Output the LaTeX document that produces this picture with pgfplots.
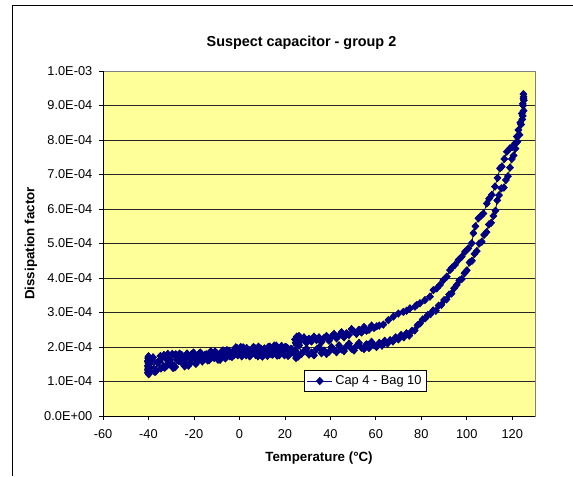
\documentclass[border=0pt]{standalone}
\usepackage{fontspec}
\setmainfont{Liberation Sans}
\usepackage{pgfplots}
\usepackage{pgfplotstable}
\pgfplotsset{compat=1.18}
\definecolor{navyblue}{RGB}{0,0,128}
\definecolor{plotyellow}{RGB}{255,255,153}

\pgfplotstableread{
T D
25.3 2.06
24.0 1.81
22.7 1.95
21.4 1.74
20.1 2.00
18.8 1.89
17.5 1.76
16.2 2.04
14.9 1.83
13.6 1.95
12.3 1.74
11.0 1.96
9.7 1.86
8.4 2.01
7.1 1.77
5.8 1.90
4.5 1.73
3.2 1.97
1.9 1.81
0.6 2.00
-0.7 1.76
-2.0 1.85
-3.3 1.71
-4.6 1.89
-5.9 1.77
-7.2 1.90
-8.5 1.63
-9.8 1.81
-11.1 1.68
-12.4 1.86
-13.7 1.63
-15.0 1.73
-16.3 1.58
-17.6 1.79
-18.9 1.63
-20.2 1.84
-21.5 1.55
-22.8 1.72
-24.1 1.44
-25.4 1.77
-26.7 1.59
-28.0 1.79
-29.3 1.40
-30.6 1.63
-31.9 1.46
-33.2 1.77
-34.5 1.38
-35.8 1.54
-37.1 1.28
-38.4 1.65
-39.7 1.40
-40.3 1.26
-40.0 1.55
-40.2 1.33
-39.8 1.64
-40.1 1.24
-40.0 1.70
-40.3 1.45
-39.9 1.30
-40.2 1.60
-40.0 1.40
-40.1 1.67
-39.8 1.50
-40.2 1.36
-40.0 1.73
-40.1 1.47
-40.3 1.58
-39.9 1.21
-40.0 1.52
-39.3 1.40
-38.0 1.70
-36.7 1.30
-35.4 1.58
-34.1 1.69
-32.8 1.40
-31.5 1.80
-30.2 1.53
-28.9 1.40
-27.6 1.70
-26.3 1.81
-25.0 1.52
-23.7 1.66
-22.4 1.46
-21.1 1.79
-19.8 1.72
-18.5 1.58
-17.2 1.84
-15.9 1.67
-14.6 1.79
-13.3 1.62
-12.0 1.74
-10.7 1.87
-9.4 1.63
-8.1 1.84
-6.8 1.77
-5.5 1.91
-4.2 1.73
-2.9 1.87
-1.6 1.99
-0.3 1.79
1.0 1.73
2.3 1.95
3.6 1.87
4.9 1.76
6.2 2.00
7.5 1.81
8.8 1.95
10.1 1.72
11.4 1.90
12.7 2.00
14.0 1.79
15.3 2.04
16.6 1.75
17.9 1.98
19.2 1.87
20.5 2.00
21.8 1.78
23.1 1.93
24.4 2.22
24.9 1.68
25.2 2.30
25.5 1.82
24.7 2.12
25.8 1.72
26.3 2.05
27.3 1.80
28.4 1.88
29.5 1.95
30.6 1.78
31.7 1.84
32.8 1.76
33.9 1.93
35.0 1.99
36.1 1.82
37.2 1.90
38.3 1.80
39.4 1.86
40.5 2.00
41.6 1.92
42.7 1.85
43.8 2.05
44.9 1.93
46.0 1.88
47.1 2.02
48.2 2.10
49.3 1.95
50.4 1.90
51.5 2.03
52.6 2.12
53.7 1.98
54.8 1.94
55.9 2.08
57.0 1.97
58.1 2.15
59.2 2.05
60.3 2.00
61.5 2.12
62.7 2.04
63.9 2.18
65.1 2.10
66.3 2.20
67.5 2.16
68.7 2.28
69.9 2.22
71.1 2.35
72.3 2.28
73.5 2.40
74.7 2.33
75.9 2.47
77.1 2.48
78.3 2.63
79.4 2.68
80.6 2.80
81.7 2.83
82.9 2.93
84.0 2.95
85.2 3.06
86.4 3.05
87.6 3.20
88.8 3.22
90.0 3.36
91.1 3.38
92.2 3.52
93.3 3.55
94.4 3.70
95.6 3.80
96.7 3.93
97.8 3.97
99.0 4.14
100.0 4.22
101.2 4.45
102.3 4.50
103.4 4.70
104.4 4.78
105.5 5.00
106.6 5.05
107.6 5.25
108.7 5.33
109.7 5.55
110.7 5.60
111.7 5.80
112.6 5.95
113.4 6.25
114.2 6.40
115.2 6.60
116.3 6.62
117.2 6.84
118.1 6.95
119.0 7.20
119.8 7.45
120.6 7.55
121.4 7.75
122.3 7.95
123.2 8.15
123.9 8.45
124.4 8.60
124.6 8.70
125.0 8.85
124.8 9.00
125.1 9.15
125.0 9.25
124.9 9.33
124.9 9.20
124.6 9.05
124.2 8.77
123.5 8.50
122.7 8.29
122.0 8.10
121.2 7.90
120.0 7.80
119.0 7.76
117.6 7.66
116.5 7.45
115.4 7.23
114.6 7.18
113.5 6.90
112.4 6.65
111.0 6.41
109.8 6.30
108.8 6.16
107.3 5.87
106.2 5.80
105.1 5.73
103.8 5.50
102.9 5.30
102.2 5.01
100.7 4.86
99.2 4.76
97.8 4.62
96.3 4.52
94.8 4.38
93.5 4.30
92.6 4.23
91.2 4.04
89.7 3.94
88.2 3.80
86.8 3.70
85.3 3.65
83.8 3.46
81.6 3.36
79.4 3.27
78.0 3.22
77.2 3.17
75.0 3.12
73.5 3.05
72.1 3.02
69.9 2.97
67.7 2.88
65.5 2.78
63.3 2.65
61.5 2.62
60.4 2.60
59.2 2.55
58.1 2.62
57.0 2.50
55.9 2.47
54.8 2.58
53.7 2.42
52.6 2.50
51.5 2.38
50.4 2.45
49.3 2.52
48.2 2.35
47.1 2.40
46.0 2.28
44.9 2.43
43.8 2.33
42.7 2.25
41.6 2.38
40.5 2.30
39.4 2.18
38.3 2.32
37.2 2.26
36.1 2.14
35.0 2.28
33.9 2.20
32.8 2.30
31.7 2.16
30.6 2.24
29.5 2.12
28.4 2.28
27.3 2.20
26.2 2.32
25.3 2.22
22.45 1.90
21.15 1.97
19.85 1.76
18.55 2.03
17.25 1.83
15.95 1.91
14.65 1.78
13.35 2.01
12.05 1.81
10.75 1.89
9.45 1.95
8.15 1.73
6.85 1.96
5.55 1.85
4.25 1.91
2.95 1.76
1.65 1.99
0.35 1.83
-0.95 1.96
-2.25 1.77
-3.55 1.83
-4.85 1.87
-6.15 1.67
-7.45 1.89
-8.75 1.69
-10.05 1.79
-11.35 1.71
-12.65 1.87
-13.95 1.61
-15.25 1.77
-16.55 1.68
-17.85 1.80
-19.15 1.51
-20.45 1.71
-21.75 1.53
-23.05 1.81
-24.35 1.55
-25.65 1.75
-26.95 1.61
-28.25 1.42
-29.55 1.80
-30.85 1.53
-32.15 1.65
-33.45 1.42
-34.75 1.74
-36.05 1.56
-37.35 1.29
-38.65 1.63
}\captable

\begin{document}
\begin{tikzpicture}
\useasboundingbox (0,0) rectangle (429.75pt,357pt);
\draw[line width=0.75pt,black] (9.2pt,0) -- (9.2pt,352.8pt) -- (429.75pt,352.8pt);
\node[font=\fontsize{10.8}{13}\selectfont\bfseries] at (226.1pt,324.75pt) {Suspect capacitor - group 2};
\begin{axis}[
  at={(77.25pt,45pt)}, anchor=south west,
  scale only axis,
  width=324pt, height=258.75pt,
  xmin=-60, xmax=130, ymin=0, ymax=10,
  xtick={-60,-40,-20,0,20,40,60,80,100,120},
  xticklabels={-60,-40,-20,0,20,40,60,80,100,120},
  ytick={0,1,2,3,4,5,6,7,8,9,10},
  yticklabels={0.0E+00,1.0E-04,2.0E-04,3.0E-04,4.0E-04,5.0E-04,6.0E-04,7.0E-04,8.0E-04,9.0E-04,1.0E-03},
  tick pos=left, tick align=outside,
  major tick length=3pt,
  tick style={black, line width=0.6pt},
  tick label style={font=\fontsize{9.6}{11}\selectfont},
  xticklabel style={yshift=-4pt},
  yticklabel style={xshift=-1.5pt},
  ymajorgrids, grid style={black!85, line width=0.6pt},
  axis line style={gray, line width=0.6pt},
  axis background/.style={fill=plotyellow},
  xlabel={Temperature (°C)},
  ylabel={Dissipation factor},
  xlabel style={font=\fontsize{10}{12}\selectfont\bfseries, at={(rel axis cs:0.5,0)}, anchor=center, yshift=-31.5pt},
  ylabel style={font=\fontsize{10}{12}\selectfont\bfseries, at={(rel axis cs:0,0.5)}, anchor=center, yshift=54pt},
  legend style={at={(0.6076,0.1014)}, anchor=center, draw=black, line width=0.6pt, fill=white,
     font=\fontsize{9.6}{11}\selectfont, inner sep=1.5pt, row sep=0pt},
  legend cell align=left,
  legend image code/.code={%
    \draw[#1] (0pt,0pt) -- (18.75pt,0pt);
    \draw[#1, mark repeat=1] plot coordinates {(9.4pt,0pt)};
  },
]
\addplot[color=navyblue, line width=0.6pt, mark=diamond*, mark size=2.7pt,
  mark options={solid, fill=navyblue, xscale=1.25}] table[x=T, y=D] {\captable};
\addlegendentry{Cap 4 - Bag 10}
\draw[black, line width=0.75pt] (rel axis cs:0,1) -- (rel axis cs:0,0) -- (rel axis cs:1,0);
\end{axis}
\end{tikzpicture}
\end{document}
